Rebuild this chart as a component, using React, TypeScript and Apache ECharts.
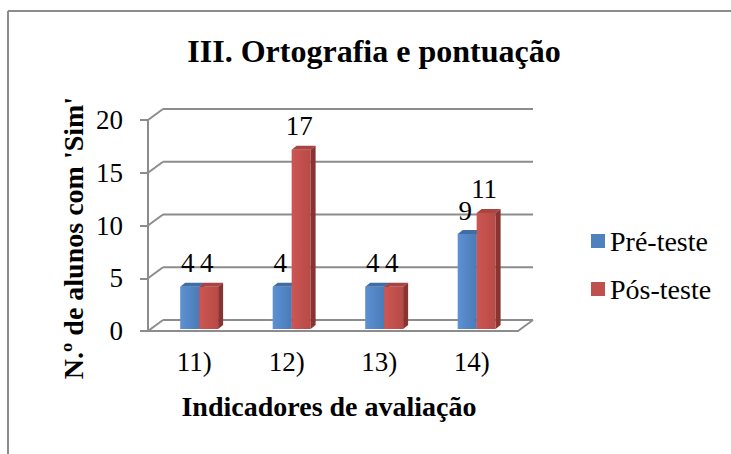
import React, { useEffect, useRef } from "react";
import * as echarts from "echarts";

const categories = ["11)", "12)", "13)", "14)"];
const preTeste = [4, 4, 4, 9];
const posTeste = [4, 17, 4, 11];
const seriesNames = ["Pré-teste", "Pós-teste"];
const yTickValues = [0, 5, 10, 15, 20];

const FONT = "Times New Roman";
const GRID_COLOR = "#8c8c8c";
const WALL_DX = 15;
const WALL_DY = -11;
const BAR_DX = 5;
const BAR_DY = -4;

const palettes = [
  { front: ["#5d91d2", "#4a7bb8"], top: "#3f6da6", side: "#2f5585" },
  { front: ["#cc5653", "#b84a46"], top: "#a84442", side: "#8a3432" },
];

function makeBarRender(seriesIdx: number) {
  return (params: any, api: any) => {
    const i = api.value(0);
    const v = api.value(1);
    const topPt = api.coord([i, v]);
    const basePt = api.coord([i, 0]);
    const bw = api.size([1, 0])[0];
    const barW = bw * 0.205;
    const left = topPt[0] - bw * 0.152 + seriesIdx * barW;
    const top = topPt[1] - 2;
    const base = basePt[1] - 2;
    const pal = palettes[seriesIdx];
    return {
      type: "group",
      children: [
        {
          type: "rect",
          shape: { x: left, y: top, width: barW, height: base - top },
          style: {
            fill: new echarts.graphic.LinearGradient(0, 0, 1, 0, [
              { offset: 0, color: pal.front[0] },
              { offset: 1, color: pal.front[1] },
            ]),
          },
        },
        {
          type: "polygon",
          shape: {
            points: [
              [left, top],
              [left + BAR_DX, top + BAR_DY],
              [left + barW + BAR_DX, top + BAR_DY],
              [left + barW, top],
            ],
          },
          style: { fill: pal.top },
        },
        {
          type: "polygon",
          shape: {
            points: [
              [left + barW, top],
              [left + barW + BAR_DX, top + BAR_DY],
              [left + barW + BAR_DX, base + BAR_DY],
              [left + barW, base],
            ],
          },
          style: { fill: pal.side },
        },
        {
          type: "text",
          style: {
            text: String(v),
            x: left + barW / 2 - 2,
            y: top - 10,
            align: "center",
            verticalAlign: "bottom",
            fontSize: 27,
            fontFamily: FONT,
            fill: "#000",
          },
        },
      ],
    };
  };
}

function renderGrid(params: any, api: any) {
  const v = api.value(1);
  const p = api.coord([0, v]);
  const cs = params.coordSys;
  const x0 = cs.x;
  const x1 = cs.x + cs.width;
  const y = p[1];
  const ls = { stroke: GRID_COLOR, lineWidth: 2 };
  const children: any[] = [
    { type: "line", shape: { x1: x0 + WALL_DX, y1: y + WALL_DY, x2: x1 + WALL_DX, y2: y + WALL_DY }, style: ls },
    { type: "line", shape: { x1: x0, y1: y, x2: x0 + WALL_DX, y2: y + WALL_DY }, style: ls },
  ];
  if (v === 0) {
    children.push({ type: "line", shape: { x1: x1, y1: y, x2: x1 + WALL_DX, y2: y + WALL_DY }, style: ls });
  }
  return { type: "group", children };
}

export default function App() {
  const ref = useRef<HTMLDivElement>(null);
  useEffect(() => {
    if (!ref.current) return;
    const chart = echarts.init(ref.current, null, { renderer: "svg" });
    chart.setOption({
      animation: false,
      backgroundColor: "#fff",
      textStyle: { fontFamily: FONT },
      grid: { left: 148, right: 213, top: 120, bottom: 123 },
      legend: {
        data: seriesNames,
        orient: "vertical",
        left: 591,
        top: 227,
        padding: 0,
        itemWidth: 14,
        itemHeight: 14,
        itemGap: 20,
        icon: "rect",
        selectedMode: false,
        textStyle: { fontSize: 28, fontFamily: FONT, color: "#000" },
      },
      xAxis: {
        type: "category",
        data: categories,
        axisLine: { show: true, lineStyle: { color: GRID_COLOR, width: 2 } },
        axisTick: { show: false },
        axisLabel: { fontSize: 27, fontFamily: FONT, color: "#000", margin: 17 },
        splitLine: { show: false },
      },
      yAxis: {
        type: "value",
        min: 0,
        max: 20,
        interval: 5,
        axisLine: { show: true, lineStyle: { color: GRID_COLOR, width: 2 } },
        axisTick: { show: true, length: 8, lineStyle: { color: GRID_COLOR, width: 2 } },
        axisLabel: { fontSize: 27, fontFamily: FONT, color: "#000", margin: 25 },
        splitLine: { show: false },
      },
      graphic: [
        { type: "line", shape: { x1: 8, y1: 11, x2: 731, y2: 11 }, style: { stroke: GRID_COLOR, lineWidth: 2 } },
        { type: "line", shape: { x1: 8, y1: 11, x2: 8, y2: 454 }, style: { stroke: GRID_COLOR, lineWidth: 2 } },
        {
          type: "text",
          x: 374,
          y: 51,
          style: {
            text: "III. Ortografia e pontuação",
            fontSize: 32,
            fontWeight: "bold",
            fontFamily: FONT,
            align: "center",
            verticalAlign: "middle",
            fill: "#000",
          },
        },
        {
          type: "text",
          x: 329,
          y: 406,
          style: {
            text: "Indicadores de avaliação",
            fontSize: 28,
            fontWeight: "bold",
            fontFamily: FONT,
            align: "center",
            verticalAlign: "middle",
            fill: "#000",
          },
        },
        {
          type: "text",
          x: 73,
          y: 238,
          rotation: Math.PI / 2,
          style: {
            text: "N.º de alunos com 'Sim'",
            fontSize: 28,
            fontWeight: "bold",
            fontFamily: FONT,
            align: "center",
            verticalAlign: "middle",
            fill: "#000",
          },
        },
      ],
      series: [
        {
          type: "custom",
          name: "gridlines",
          silent: true,
          z: 1,
          data: yTickValues.map((v) => [0, v]),
          renderItem: renderGrid,
        },
        {
          type: "custom",
          name: seriesNames[0],
          silent: true,
          z: 2,
          itemStyle: { color: "#4f81bd" },
          data: preTeste.map((v, i) => [i, v]),
          renderItem: makeBarRender(0),
        },
        {
          type: "custom",
          name: seriesNames[1],
          silent: true,
          z: 3,
          itemStyle: { color: "#c0504d" },
          data: posTeste.map((v, i) => [i, v]),
          renderItem: makeBarRender(1),
        },
      ],
    });
    return () => chart.dispose();
  }, []);
  return (
    <div
      ref={ref}
      style={{ position: "fixed", left: 0, top: 0, width: 731, height: 454, background: "#fff" }}
    />
  );
}
